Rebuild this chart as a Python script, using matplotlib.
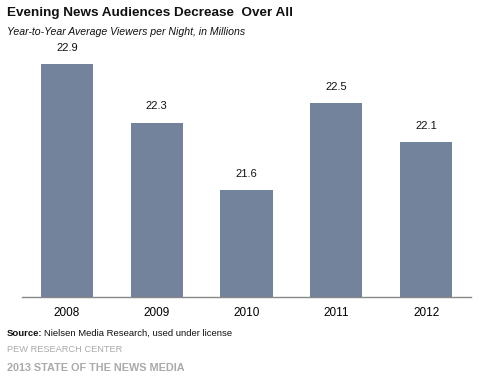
import matplotlib
matplotlib.use('Agg')
import matplotlib.pyplot as plt

# chart data
years = ['2008', '2009', '2010', '2011', '2012']
viewers = [22.9, 22.3, 21.6, 22.5, 22.1]

plt.rcParams['font.family'] = ['Liberation Sans', 'DejaVu Sans']

fig = plt.figure(figsize=(4.84, 3.76), dpi=100)
ax = fig.add_axes([22/484, 79/376, 449/484, 252/376])

x = range(len(years))
bars = ax.bar(x, viewers, width=0.58, color='#72839b', bottom=0)
ax.set_ylim(20.5, 23.1)
ax.set_xlim(-0.5, len(years) - 0.5)

for xi, v in zip(x, viewers):
    ax.annotate(f'{v:.1f}', xy=(xi, v), xytext=(0, 8), textcoords='offset points',
                ha='center', va='bottom', fontsize=8, color='#111111')

ax.set_xticks(list(x))
ax.set_xticklabels(years, fontsize=8.5)
ax.tick_params(axis='x', length=0, pad=7)
ax.set_yticks([])
for s in ['top', 'right', 'left']:
    ax.spines[s].set_visible(False)
ax.spines['bottom'].set_color('#888888')
ax.spines['bottom'].set_linewidth(1)

# header and footer
fig.text(7/484, 1 - 13/376, 'Evening News Audiences Decrease  Over All', fontsize=9.7,
         fontweight='bold', va='center', ha='left', color='#111111')
fig.text(7/484, 1 - 32/376, 'Year-to-Year Average Viewers per Night, in Millions', fontsize=7.6,
         style='italic', va='center', ha='left', color='#111111')
src = fig.text(7/484, 1 - 333/376, 'Source:', fontsize=6.8, fontweight='bold',
               va='center', ha='left', color='#111111')
fig.text(44/484, 1 - 333/376, 'Nielsen Media Research, used under license', fontsize=6.8,
         va='center', ha='left', color='#111111')
fig.text(7/484, 1 - 350/376, 'PEW RESEARCH CENTER', fontsize=6.7,
         va='center', ha='left', color='#aaaaaa')
fig.text(7/484, 1 - 368/376, '2013 STATE OF THE NEWS MEDIA', fontsize=7.8,
         fontweight='bold', va='center', ha='left', color='#aaaaaa')

fig.savefig('out.png', dpi=100)
